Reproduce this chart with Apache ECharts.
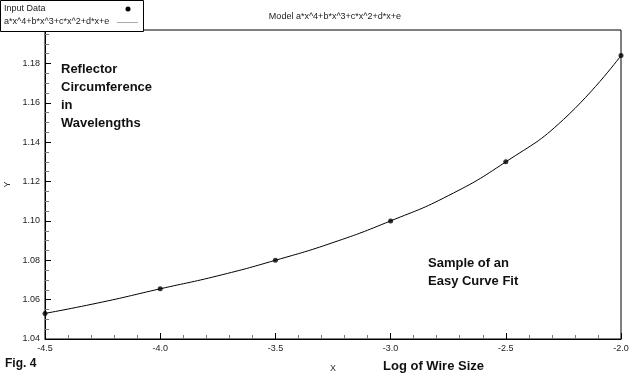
<!DOCTYPE html>
<html><head><meta charset="utf-8">
<script src="https://cdn.jsdelivr.net/npm/echarts@6/dist/echarts.min.js"></script>
<style>html,body{margin:0;padding:0;background:#fff}#c{width:640px;height:379px}</style>
</head><body><div id="c"></div>
<script>
const xValues = [-4.5, -4.0, -3.5, -3.0, -2.5, -2.0];
const yValues = [1.053, 1.0655, 1.08, 1.10, 1.13, 1.184];
const curveX = [-4.5, -4.25, -4.0, -3.75, -3.5, -3.25, -3.0, -2.75, -2.5, -2.25, -2.0];
const curveY = [1.053, 1.0588, 1.0655, 1.0721, 1.08, 1.089, 1.10, 1.1128, 1.13, 1.1515, 1.184];
const yTickLabels = ['1.04','1.06','1.08','1.10','1.12','1.14','1.16','1.18'];
const xTickLabels = ['-4.5','-4.0','-3.5','-3.0','-2.5','-2.0'];
const pointName = 'Input Data';
const curveName = 'a*x^4+b*x^3+c*x^2+d*x+e';

const pts = xValues.map((x, i) => [x, yValues[i]]);
const curve = curveX.map((x, i) => [x, curveY[i]]);
const chart = echarts.init(document.getElementById('c'));
const F = 'Liberation Sans, Arial, sans-serif';
chart.setOption({
  animation: false,
  textStyle: { fontFamily: F },
  title: {
    text: 'Model ' + curveName, left: 330, top: 7, textAlign: 'center',
    textStyle: { fontSize: 9, fontWeight: 'normal', color: '#222', fontFamily: F }
  },
  grid: { left: 45, right: 19, top: 30, bottom: 40, show: true, borderColor: '#000', borderWidth: 1, outerBoundsMode: 'none', containLabel: false },
  xAxis: {
    type: 'value', min: -4.5, max: -2.0, interval: 0.5,
    name: 'X', nameLocation: 'middle', nameGap: 25,
    nameTextStyle: { fontSize: 9, color: '#333', fontFamily: F },
    axisLine: { lineStyle: { color: '#000' } },
    axisTick: { inside: true, length: 6, lineStyle: { color: '#000' } },
    minorTick: { show: true, splitNumber: 5, length: 4, lineStyle: { color: '#777' } },
    splitLine: { show: false },
    axisLabel: { fontSize: 9, color: '#222', margin: 5, fontFamily: F,
      formatter: v => xTickLabels[Math.round((v + 4.5) / 0.5)] || '' }
  },
  yAxis: {
    type: 'value', min: 1.04, max: 1.197, interval: 0.02,
    name: 'Y', nameLocation: 'middle', nameGap: 27, nameRotate: 90,
    nameTextStyle: { fontSize: 9, color: '#333', fontFamily: F },
    axisLine: { lineStyle: { color: '#000' } },
    axisTick: { inside: true, length: 6, lineStyle: { color: '#000' } },
    minorTick: { show: true, splitNumber: 4, length: 4, lineStyle: { color: '#777' } },
    splitLine: { show: false },
    axisLabel: { fontSize: 9, color: '#222', margin: 5, fontFamily: F, showMaxLabel: false,
      formatter: v => { const i = Math.round((v - 1.04) / 0.02); return (Math.abs(v - (1.04 + i*0.02)) < 1e-6) ? (yTickLabels[i] || '') : ''; } }
  },
  series: [
    { name: curveName, type: 'line', data: curve, smooth: 0.5, symbol: 'none',
      lineStyle: { color: '#000', width: 1 }, z: 2 },
    { name: pointName, type: 'scatter', data: pts, symbolSize: 5,
      itemStyle: { color: '#000' }, z: 3 }
  ],
  graphic: [
    { type: 'rect', left: 0, top: 0, z: 10, shape: { width: 143, height: 31 },
      style: { fill: '#fff', stroke: '#000', lineWidth: 1 } },
    { type: 'text', left: 4, top: 4, z: 11, style: { text: pointName, font: '9px ' + F, fill: '#222' } },
    { type: 'circle', z: 11, shape: { cx: 128, cy: 9, r: 2.5 }, style: { fill: '#000' } },
    { type: 'text', left: 4, top: 17, z: 11, style: { text: curveName, font: '9px ' + F, fill: '#222' } },
    { type: 'line', z: 11, shape: { x1: 117, y1: 22.5, x2: 138, y2: 22.5 }, style: { stroke: '#aaa', lineWidth: 1 } },
    { type: 'text', left: 61, top: 60, style: { text: 'Reflector\nCircumference\nin\nWavelengths',
      font: 'bold 13px ' + F, fill: '#111', lineHeight: 18 } },
    { type: 'text', left: 428, top: 254, style: { text: 'Sample of an\nEasy Curve Fit',
      font: 'bold 13px ' + F, fill: '#111', lineHeight: 18 } },
    { type: 'text', left: 5, top: 358, style: { text: 'Fig. 4', font: 'bold 12px ' + F, fill: '#111' } },
    { type: 'text', left: 383, top: 360, style: { text: 'Log of Wire Size', font: 'bold 13px ' + F, fill: '#111' } }
  ]
});
</script></body></html>
